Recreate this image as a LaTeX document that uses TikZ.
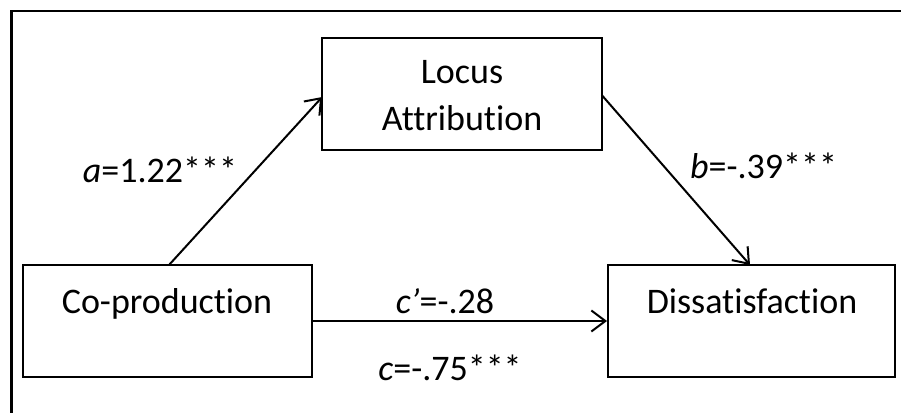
\documentclass[tikz,border=0pt]{standalone}
\usepackage{fontspec}
\setmainfont{Carlito}[Ligatures={NoCommon}]
\usetikzlibrary{arrows.meta}
\begin{document}
\begin{tikzpicture}[x=1pt,y=-1pt,
  box/.style={draw=black, line width=2pt, rectangle, inner sep=0pt},
  lbl/.style={anchor=base, inner sep=0pt, font=\fontsize{36}{47}\selectfont},
  path/.style={draw=black, line width=2pt, -{Straight Barb[length=14pt,width=21pt,line width=2pt]}}]
  \useasboundingbox (0,0) rectangle (901,412);
  % outer frame (only its top and left edges fall inside the page)
  \draw[line width=2.5pt] (11.7,430) -- (11.7,11) -- (920,11);
  % variable boxes
  \node[box, minimum width=279.5pt, minimum height=112pt] (locus) at (462,94) {};
  \node[box, minimum width=289pt, minimum height=112pt] (coprod) at (167.5,321) {};
  \node[box, minimum width=287pt, minimum height=112pt] (dissat) at (751.5,321) {};
  % box texts
  \node[lbl] (locusA) at (462,83) {Locus};
  \node[lbl] (locusB) at (462,130) {Attribution};
  \node[lbl] (coprodT) at (167,313) {Co-production};
  \node[lbl] (dissatT) at (752,313) {Dissatisfaction};
  % paths
  \coordinate (aStart) at (169,265);
  \coordinate (aEnd) at (322.2,97);
  \coordinate (bStart) at (601.7,95);
  \coordinate (bEnd) at (750,265);
  \draw[path] (aStart) -- (aEnd);
  \draw[path] (bStart) -- (bEnd);
  \draw[path] (coprod.east) -- (dissat.west);
  % coefficients
  \node[lbl] (alab) at (160,182) {\textit{a}=1.22***};
  \node[lbl, anchor=base west] (blab) at (690,178) {\textit{b}=-.39***};
  \node[lbl] (cplab) at (445,313) {\textit{c’}=-.28};
  \node[lbl] (clab) at (450,380) {\textit{c}=-.75***};
\end{tikzpicture}
\end{document}
